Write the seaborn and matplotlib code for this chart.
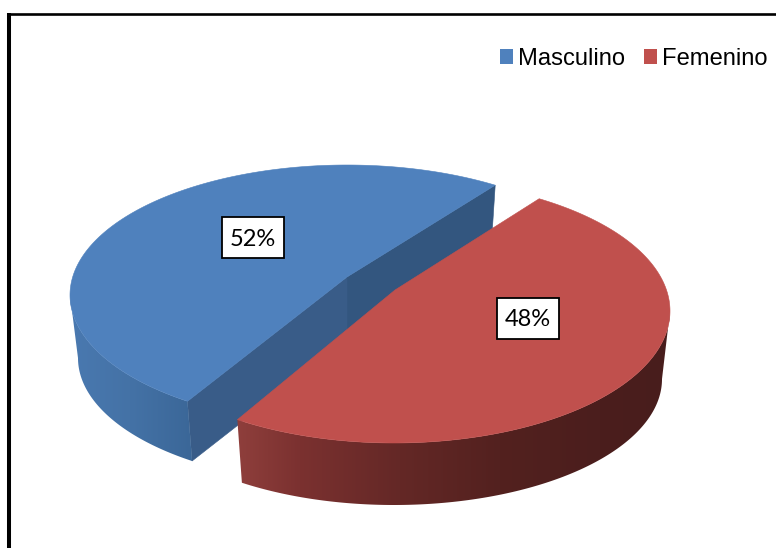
import numpy as np
import matplotlib
matplotlib.use("Agg")
import matplotlib.pyplot as plt
from matplotlib.colors import to_rgb
from matplotlib.patches import Patch, Polygon, Rectangle
import seaborn as sns

categories = ["Masculino", "Femenino"]
shares = [52, 48]

START_ANGLE = 52.5
SLICE_ROTATION = 0.6
face_colors = sns.color_palette(["#4F81BD", "#C0504D"])

# Ellipse geometry of each slice in pixel space: top rim, bottom rim, apex position.
blue_shape = dict(cx=347, cy=295, rx=277, ry=130, bcx=347, bcy=358, brx=269, bry=126,
                  tilt=0.156, apex_top=(347, 277), apex_bottom=(347, 340))
red_shape = dict(cx=394, cy=311, rx=276, ry=132, bcx=394, bcy=379, brx=268, bry=126,
                 tilt=0.159, apex_top=(395, 290), apex_bottom=(395, 358))

blue_wall_x = [70, 130, 191]
blue_wall_colors = ["#4A79B0", "#4472A6", "#3B6798"]
red_wall_x = [237, 300, 400, 500, 600, 670]
red_wall_colors = ["#8F3F3C", "#7B3130", "#642826", "#53211F", "#4B1E1D", "#481D1C"]


def project(angles_deg, shape, bottom=False):
    """Map pie angles on the unit circle onto a perspective-tilted ellipse."""
    t = np.radians(angles_deg)
    x, y = np.cos(t), np.sin(t)
    c = shape["tilt"]
    denom = 1 + c * y
    u = x * np.sqrt(1 - c ** 2) / denom
    v = (y + c) / denom
    if bottom:
        return shape["bcx"] + shape["brx"] * u, shape["bcy"] - shape["bry"] * v
    return shape["cx"] + shape["rx"] * u, shape["cy"] - shape["ry"] * v


def silhouette_offset(shape):
    """Angle past 180 degrees at which the tilted rim reaches its widest point."""
    return np.degrees(np.arcsin(shape["tilt"]))


def draw_wall(ax, a0, a1, shape, anchors, colors, zorder):
    """Outer rim of a slice, shaded left to right and clipped to the rim outline."""
    angles = np.linspace(a0, a1, 300)
    xt, yt = project(angles, shape)
    xb, yb = project(angles, shape, bottom=True)
    outline = list(zip(xt, yt)) + list(zip(xb[::-1], yb[::-1]))
    clip = Polygon(outline, closed=True, transform=ax.transData, facecolor="none", edgecolor="none")
    ax.add_patch(clip)
    x0, x1 = min(xt.min(), xb.min()) - 1, max(xt.max(), xb.max()) + 1
    y0, y1 = min(yt.min(), yb.min()) - 1, max(yt.max(), yb.max()) + 1
    columns = np.linspace(x0, x1, 600)
    rgb = np.array([to_rgb(col) for col in colors])
    ramp = np.stack([np.interp(columns, anchors, rgb[:, i]) for i in range(3)], axis=-1)[None, :, :]
    image = ax.imshow(ramp, extent=(x0, x1, y1, y0), aspect="auto", interpolation="bilinear", zorder=zorder)
    image.set_clip_path(clip)


def draw_top(ax, a0, a1, shape, color, zorder):
    xs, ys = project(np.linspace(a0, a1, 300), shape)
    pts = [shape["apex_top"]] + list(zip(xs, ys))
    ax.add_patch(Polygon(pts, closed=True, facecolor=color, edgecolor=color, linewidth=0.4, zorder=zorder))


def draw_cut(ax, angle, shape, color, zorder):
    xt, yt = project(np.array([angle]), shape)
    xb, yb = project(np.array([angle]), shape, bottom=True)
    pts = [shape["apex_top"], (xt[0], yt[0]), (xb[0], yb[0]), shape["apex_bottom"]]
    ax.add_patch(Polygon(pts, closed=True, facecolor=color, edgecolor=color, linewidth=0.4, zorder=zorder))


sns.set_theme(style="white")
plt.rcParams["font.family"] = ["Liberation Sans", "DejaVu Sans"]

fig = plt.figure(figsize=(7.76, 5.48), dpi=100, facecolor="white")
ax = fig.add_axes([0, 0, 1, 1])

# Frame around the chart: only the top and left rules show.
ax.plot([9, 776], [14.2, 14.2], color="black", lw=1.9, solid_capstyle="butt", zorder=1)
ax.plot([9, 9], [13, 548], color="black", lw=2.9, solid_capstyle="butt", zorder=1)

blue_span = 360 * shares[0] / sum(shares)
red_span = 360 * shares[1] / sum(shares)
blue_end = START_ANGLE + blue_span
red_start = blue_end + SLICE_ROTATION
red_end = red_start + red_span

# Masculino slice
draw_cut(ax, START_ANGLE, blue_shape, "#33567F", 2)
draw_cut(ax, blue_end, blue_shape, "#395C88", 3)
draw_wall(ax, 180 + silhouette_offset(blue_shape), blue_end, blue_shape, blue_wall_x, blue_wall_colors, 4)
draw_top(ax, START_ANGLE, blue_end, blue_shape, face_colors[0], 5)

# Femenino slice
draw_wall(ax, red_start, 360 - silhouette_offset(red_shape), red_shape, red_wall_x, red_wall_colors, 6)
draw_top(ax, red_start, red_end, red_shape, face_colors[1], 7)

# Percentage labels in white boxes
label_points = [(253, 237), (527.5, 318)]
for value, (lx, ly) in zip(shares, label_points):
    ax.add_patch(Rectangle((lx - 31, ly - 20.5), 62, 41, facecolor="white", edgecolor="black",
                           linewidth=1.3, zorder=8))
    ax.text(lx, ly + 2, f"{value}%", family="Lato", fontsize=17, color="black",
            ha="center", va="center", zorder=9)

handles = [Patch(facecolor=c, edgecolor="none", label=n) for c, n in zip(face_colors, categories)]
ax.legend(handles=handles, ncols=2, loc="upper right", bbox_to_anchor=(767.5, 48), bbox_transform=ax.transData,
          frameon=False, fontsize=17.1, handlelength=0.55, handleheight=0.55, handletextpad=0.22,
          columnspacing=0.78, borderpad=0, borderaxespad=0, labelcolor="black")

ax.set_xlim(0, 776)
ax.set_ylim(548, 0)
ax.axis("off")

fig.savefig("out.png", dpi=100, facecolor="white")
